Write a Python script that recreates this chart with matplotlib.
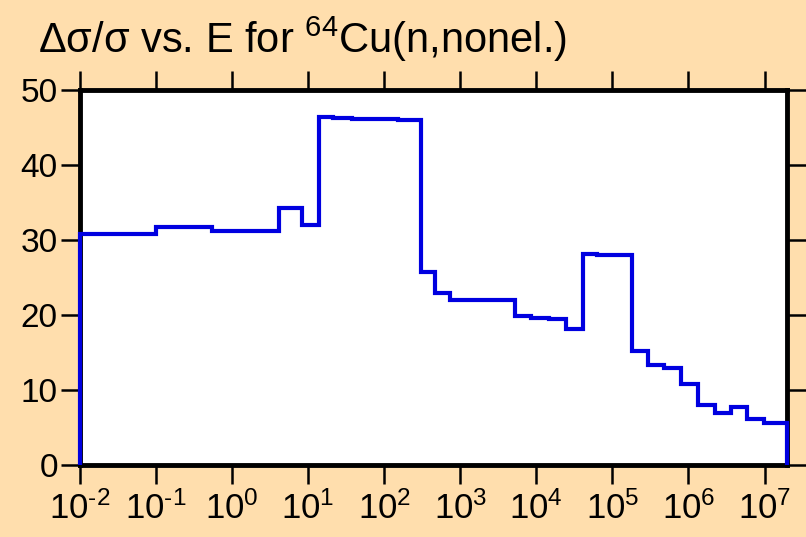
import matplotlib.pyplot as plt
import numpy as np

# group boundaries (eV) and relative uncertainty (%) per group
energy_edges = [1e-2, 0.1, 0.55, 4.15, 8.4, 14, 21, 38, 70, 150, 300,
                470, 730, 1200, 1950, 3300, 5300, 8500, 14800, 24700,
                41000, 62000, 1.0e5, 1.82e5, 2.94e5, 4.8e5, 8.0e5,
                1.32e6, 2.2e6, 3.6e6, 5.9e6, 9.8e6, 1.95e7]
rel_unc = [30.8, 31.7, 31.2, 34.3, 32.0, 46.4, 46.3, 46.2, 46.1, 46.05,
           25.8, 23.0, 22.05, 22.0, 21.95, 22.0, 19.9, 19.6, 19.5, 18.2,
           28.1, 28.0, 28.0, 15.2, 13.4, 12.9, 10.8, 8.0, 7.0, 7.8,
           6.1, 5.65]
xtick_exp = [-2, -1, 0, 1, 2, 3, 4, 5, 6, 7]
ytick_pos = [0, 10, 20, 30, 40, 50]

bg = '#FFDEAD'
plt.rcParams['font.family'] = ['Liberation Sans', 'DejaVu Sans']
plt.rcParams['mathtext.fontset'] = 'custom'
plt.rcParams['mathtext.rm'] = 'Liberation Sans'
plt.rcParams['mathtext.it'] = 'Liberation Sans'
plt.rcParams['mathtext.bf'] = 'Liberation Sans:bold'

fig = plt.figure(figsize=(8.06, 5.37), dpi=100, facecolor=bg)
ax = fig.add_axes([80 / 806, 1 - 465 / 537, (786.6 - 80) / 806, (465 - 90) / 537])
ax.set_facecolor('white')

ax.stairs(rel_unc, energy_edges, baseline=0, color='#0000E0', lw=3.0,
          zorder=3, clip_on=False)

ax.set_xscale('log')
ax.set_xlim(energy_edges[0], energy_edges[-1])
ax.set_ylim(0, 50)
ax.set_xticks([10.0 ** e for e in xtick_exp])
ax.set_xticklabels([r'$10^{\text{%s}}$' % ('-%d' % -e if e < 0 else '%d' % e)
                    for e in xtick_exp])
ax.xaxis.set_minor_locator(plt.NullLocator())
ax.set_yticks(ytick_pos)

for s in ax.spines.values():
    s.set_linewidth(3.5)
    s.set_color('black')

ax.tick_params(which='major', direction='out', length=14, width=1.8,
               top=True, right=True)
ax.tick_params(axis='y', pad=2, labelsize=24)
ax.tick_params(axis='x', pad=5, labelsize=25)

fig.text(38 / 806, 1 - 53 / 537, r'Δσ/σ vs. E for $^{64}$Cu(n,nonel.)',
         fontsize=30, va='baseline', ha='left')

fig.savefig('out.png', dpi=100, facecolor=bg)
